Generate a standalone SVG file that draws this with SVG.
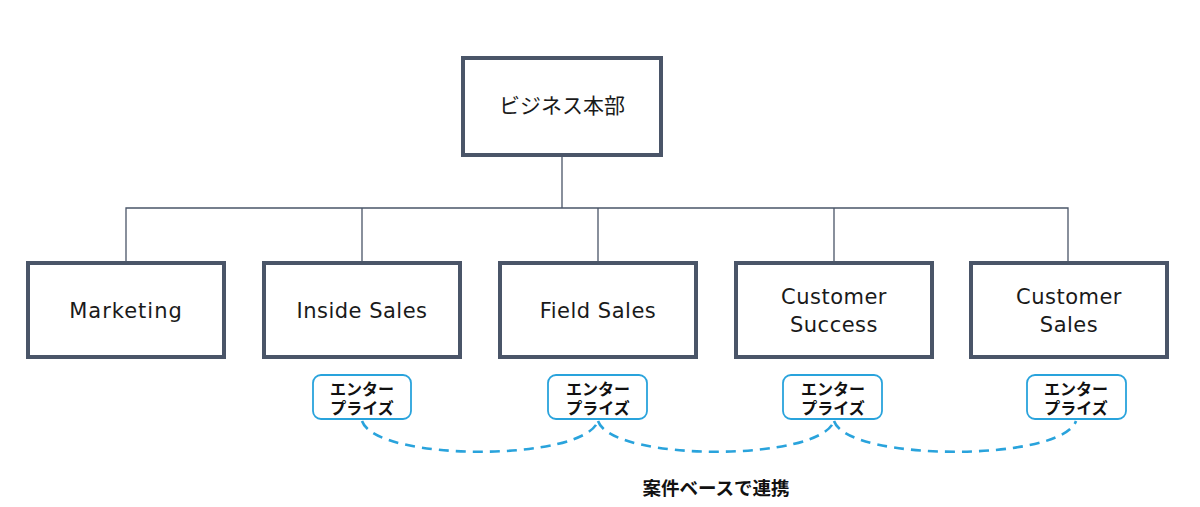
<svg xmlns="http://www.w3.org/2000/svg" width="1200" height="507" viewBox="0 0 1200 507">
<style>
.box{fill:#fff;stroke:#4a5568;stroke-width:4}
.lbl{font-family:"DejaVu Sans","Noto Sans",sans-serif;font-size:21px;letter-spacing:0.5px;fill:#1a1a1a;text-anchor:middle}
.jp{font-family:"Noto Sans CJK JP",sans-serif;font-size:21px;fill:#1a1a1a;text-anchor:middle}
.pill{fill:#fff;stroke:#29a3dc;stroke-width:1.8}
.pt{font-family:"Liberation Sans","Noto Sans CJK JP",sans-serif;font-size:16px;font-weight:bold;fill:#111;text-anchor:middle}
.conn{fill:none;stroke:#4a5568;stroke-width:1.3}
.dash{fill:none;stroke:#29a3dc;stroke-width:2.6;stroke-dasharray:10 7}
.note{font-family:"Noto Sans CJK JP",sans-serif;font-size:18.5px;font-weight:bold;fill:#111;text-anchor:middle}
</style>
<rect width="1200" height="507" fill="#fff"/>
<g id="connectors">
<path class="conn" d="M562,155 V208 M126,262 V208 H1068 V262 M362,208 V262 M598,208 V262 M834,208 V262"/>
<path class="dash" d="M362,421 C376,462 584,462 598,421"/>
<path class="dash" d="M598,421 C612,462 820,462 834,421"/>
<path class="dash" d="M834,421 C848,462 1062,462 1076,421"/>
</g>
<g id="top"><rect class="box" x="463" y="58" width="198" height="97"/><text class="jp" x="562" y="113">ビジネス本部</text></g>
<g id="marketing"><rect class="box" x="28" y="263" width="196" height="94"/><text class="lbl" x="126" y="318" style="letter-spacing:1px">Marketing</text></g>
<g id="inside"><rect class="box" x="264" y="263" width="196" height="94"/><text class="lbl" x="362" y="318">Inside Sales</text></g>
<g id="field"><rect class="box" x="500" y="263" width="196" height="94"/><text class="lbl" x="598" y="318">Field Sales</text></g>
<g id="cs"><rect class="box" x="736" y="263" width="196" height="94"/><text class="lbl" x="834" y="304">Customer</text><text class="lbl" x="834" y="332">Success</text></g>
<g id="csales"><rect class="box" x="971" y="263" width="196" height="94"/><text class="lbl" x="1069" y="304">Customer</text><text class="lbl" x="1069" y="332">Sales</text></g>
<g id="p1"><rect class="pill" x="313" y="375" width="98" height="44" rx="8"/><text class="pt" x="362" y="394.5">エンター</text><text class="pt" x="362" y="413.5">プライズ</text></g>
<g id="p2"><rect class="pill" x="548" y="375" width="99" height="44" rx="8"/><text class="pt" x="598" y="394.5">エンター</text><text class="pt" x="598" y="413.5">プライズ</text></g>
<g id="p3"><rect class="pill" x="783" y="375" width="99" height="44" rx="8"/><text class="pt" x="833" y="394.5">エンター</text><text class="pt" x="833" y="413.5">プライズ</text></g>
<g id="p4"><rect class="pill" x="1027" y="375" width="99" height="44" rx="8"/><text class="pt" x="1076" y="394.5">エンター</text><text class="pt" x="1076" y="413.5">プライズ</text></g>
<text class="note" x="716" y="495">案件ベースで連携</text>
</svg>
